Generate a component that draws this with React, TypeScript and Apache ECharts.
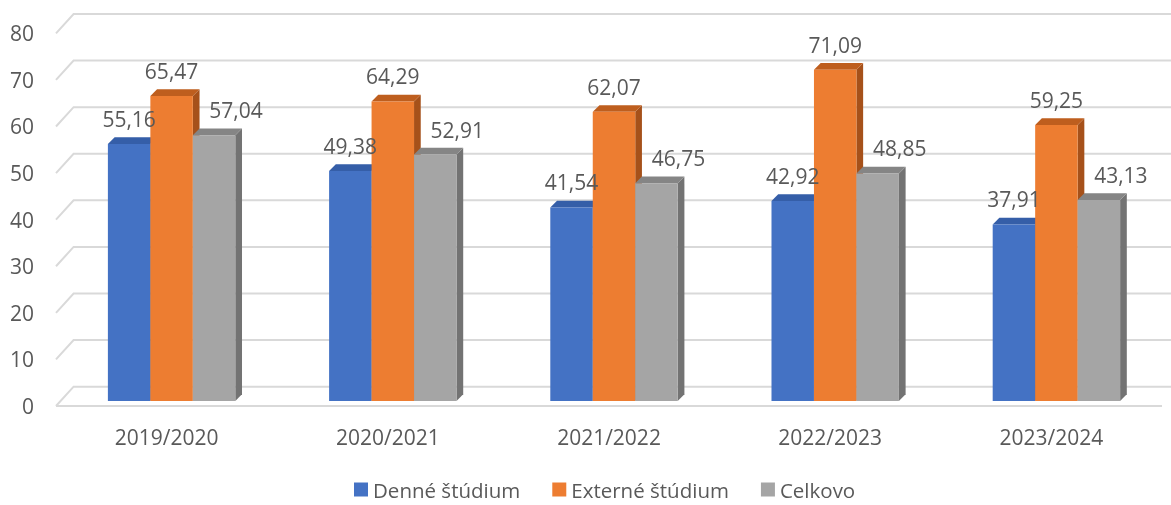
import React, { useEffect, useRef } from "react";
import * as echarts from "echarts";

const categories = ["2019/2020", "2020/2021", "2021/2022", "2022/2023", "2023/2024"];
const denneStudium = [55.16, 49.38, 41.54, 42.92, 37.91];
const externeStudium = [65.47, 64.29, 62.07, 71.09, 59.25];
const celkovo = [57.04, 52.91, 46.75, 48.85, 43.13];
const yTicks = [0, 10, 20, 30, 40, 50, 60, 70, 80];

const FONT = "'Open Sans', 'Noto Sans', sans-serif";
const TEXT = "#595959";
const WALL_DX = 17.6;
const WALL_DY = -19.3;
const BAR_DX0 = 5;
const BAR_DY0 = -5;
const BAR_DDX = 6.7;
const BAR_DDY = -6.7;
const BAR_FRAC = 0.192;
const LABEL_SHIFT = [0, 0, 22];

const fmt = (v: number) => v.toFixed(2).replace(".", ",");

function barGeom(api: any, i: number, v: number, k: number) {
  const pTop = api.coord([i, v]);
  const pBase = api.coord([i, 0]);
  const band = api.size([1, 0])[0];
  const w = band * BAR_FRAC;
  const cx = pTop[0] + BAR_DX0 + (k - 1) * w;
  return { cx, w, x0: cx - w / 2, x1: cx + w / 2, yt: pTop[1] + BAR_DY0, yb: pBase[1] + BAR_DY0 };
}

function barSeries(name: string, values: number[], k: number, front: string, top: string, side: string) {
  return {
    type: "custom",
    name,
    z: 3 + k,
    itemStyle: { color: front },
    encode: { x: 0, y: 1 },
    data: values.map((v, i) => [i, v]),
    renderItem: (params: any, api: any) => {
      const { w, x0, x1, yt, yb } = barGeom(api, api.value(0), api.value(1), k);
      return {
        type: "group",
        children: [
          {
            type: "polygon",
            shape: { points: [[x1, yt], [x1 + BAR_DDX, yt + BAR_DDY], [x1 + BAR_DDX, yb + BAR_DDY], [x1, yb]] },
            style: { fill: side },
          },
          {
            type: "polygon",
            shape: { points: [[x0, yt], [x1, yt], [x1 + BAR_DDX, yt + BAR_DDY], [x0 + BAR_DDX, yt + BAR_DDY]] },
            style: { fill: top },
          },
          {
            type: "rect",
            shape: { x: x0, y: yt, width: w, height: yb - yt },
            style: { fill: front },
          },
        ],
      };
    },
  };
}

export default function App() {
  const ref = useRef<HTMLDivElement>(null);
  useEffect(() => {
    if (!ref.current) return;
    const chart = echarts.init(ref.current, undefined, { renderer: "svg" });
    const wallSeries = {
      type: "custom",
      name: "wall",
      z: 1,
      silent: true,
      encode: { x: 0, y: 1 },
      data: yTicks.map((t) => [0, t]),
      renderItem: (params: any, api: any) => {
        const cs = params.coordSys;
        const t = api.value(1);
        const y = api.coord([0, t])[1];
        const style = { stroke: "#d9d9d9", lineWidth: 2, fill: "none" };
        const children: any[] = [
          {
            type: "polyline",
            shape: { points: [[cs.x, y], [cs.x + WALL_DX, y + WALL_DY], [cs.x + cs.width + WALL_DX, y + WALL_DY]] },
            style,
          },
        ];
        if (t === 0) {
          children.push({
            type: "line",
            shape: { x1: cs.x, y1: y, x2: cs.x + cs.width, y2: y },
            style,
          });
        }
        return { type: "group", children };
      },
    };
    const allSeries = [denneStudium, externeStudium, celkovo];
    const labelData: number[][] = [];
    allSeries.forEach((arr, k) => arr.forEach((v, i) => labelData.push([i, v, k])));
    const labelSeries = {
      type: "custom",
      name: "labels",
      z: 10,
      silent: true,
      encode: { x: 0, y: 1 },
      data: labelData,
      renderItem: (params: any, api: any) => {
        const v = api.value(1);
        const k = api.value(2);
        const { cx, yt } = barGeom(api, api.value(0), v, k);
        return {
          type: "text",
          x: cx + LABEL_SHIFT[k],
          y: yt - 25,
          style: {
            text: fmt(v),
            fill: TEXT,
            font: `21px ${FONT}`,
            align: "center",
            verticalAlign: "middle",
          },
        };
      },
    };
    chart.setOption({
      animation: false,
      grid: { left: 56, right: 9, top: 33.3, bottom: 99, containLabel: false },
      legend: {
        data: ["Denné štúdium", "Externé štúdium", "Celkovo"],
        left: 354,
        top: 479,
        padding: 0,
        icon: "rect",
        itemWidth: 14,
        itemHeight: 14,
        itemGap: 32,
        textStyle: { fontSize: 20.5, lineHeight: 20, color: TEXT, fontFamily: FONT },
      },
      xAxis: {
        type: "category",
        data: categories,
        axisLine: { show: false },
        axisTick: { show: false },
        axisLabel: { fontSize: 21, color: TEXT, fontFamily: FONT, margin: 20 },
      },
      yAxis: {
        type: "value",
        min: 0,
        max: 80,
        interval: 10,
        axisLine: { show: false },
        axisTick: { show: false },
        splitLine: { show: false },
        axisLabel: { fontSize: 21, color: TEXT, fontFamily: FONT, margin: 22 },
      },
      series: [
        wallSeries,
        barSeries("Denné štúdium", denneStudium, 0, "#4472C4", "#355EA8", "#2E5290"),
        barSeries("Externé štúdium", externeStudium, 1, "#ED7D31", "#BE5E1E", "#A6511A"),
        barSeries("Celkovo", celkovo, 2, "#A5A5A5", "#858585", "#737373"),
        labelSeries,
      ],
    });
    return () => chart.dispose();
  }, []);
  return <div ref={ref} style={{ position: "fixed", left: 0, top: 0, width: 1171, height: 505 }} />;
}
